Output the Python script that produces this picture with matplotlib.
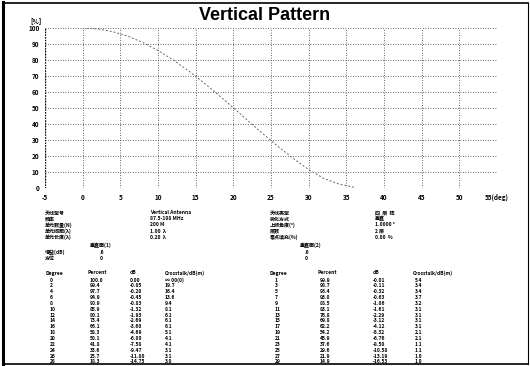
import matplotlib
matplotlib.use("Agg")
import matplotlib.pyplot as plt
from matplotlib.lines import Line2D

plt.rcParams['font.family'] = ['Noto Sans CJK SC', 'DejaVu Sans']

# pattern curve (degree, percent)
curve_deg = [0, 2, 4, 6, 8, 10, 12, 14, 16, 18, 20, 22, 24, 26, 28, 30, 32, 34, 36]
curve_pct = [100.0, 99.4, 97.7, 94.9, 90.9, 85.9, 80.1, 73.4, 66.1, 58.3, 50.1, 41.8,
             33.6, 25.7, 18.3, 11.5, 6.0, 2.5, 0.5]

x_ticks = [-5, 0, 5, 10, 15, 20, 25, 30, 35, 40, 45, 50, 55]
x_labels = ['-5', '0', '5', '10', '15', '20', '25', '30', '35', '40', '45', '50', '55(deg)']
y_ticks = [0, 10, 20, 30, 40, 50, 60, 70, 80, 90, 100]

# parameter block
info_left_labels = ['天线型号', '频率', '单元数量(N)', '单元间距(λ)', '单元长度(λ)']
info_left_values = ['Vertical Antenna', '87.5-108 MHz', '200 M', '1.00  λ', '0.20  λ']
info_right_labels = ['天线类型', '极化方式', '上倾角度(°)', '层数', '零点填充(%)']
info_right_values = ['四  层  阵', '垂直', '1.0000 °', '2 层', '0.00  %']

# table data
left_deg = [0, 2, 4, 6, 8, 10, 12, 14, 16, 18, 20, 22, 24, 26, 28]
left_pct = [100.0, 99.4, 97.7, 94.9, 90.9, 85.9, 80.1, 73.4, 66.1, 58.3, 50.1, 41.8, 33.6, 25.7, 18.3]
left_db = [0.00, -0.05, -0.20, -0.45, -0.83, -1.32, -1.93, -2.69, -3.60, -4.69, -6.00, -7.58,
           -9.47, -11.80, -14.75]
left_xt = ['∞ 00(0)', '19.7', '16.4', '13.6', '9.4', '8.1', '6.1', '6.1', '6.1', '5.1', '4.1',
           '4.1', '3.1', '3.1', '3.0']
right_deg = [1, 3, 5, 7, 9, 11, 13, 15, 17, 19, 21, 23, 25, 27, 29]
right_pct = [99.9, 98.7, 96.4, 93.0, 88.5, 83.1, 76.8, 69.8, 62.2, 54.2, 45.9, 37.6, 29.6, 21.9, 14.9]
right_db = [-0.01, -0.11, -0.32, -0.63, -1.06, -1.61, -2.29, -3.12, -4.12, -5.32, -6.76, -8.50,
            -10.58, -13.19, -16.53]
right_xt = ['5.4', '3.4', '3.4', '3.7', '3.2', '3.1', '3.1', '3.1', '3.1', '2.1', '2.1', '1.1',
            '1.1', '1.0', '1.0']

W, H = 530, 366
fig = plt.figure(figsize=(W / 100, H / 100), dpi=100)
fig.patch.set_facecolor('white')


def px(x, y):
    return x / W, 1 - y / H


def txt(x, y, s, size=3.6, **kw):
    fx, fy = px(x, y)
    fig.text(fx, fy, s, fontsize=size, va='center', color='black', fontweight='bold', **kw)


# outer frame
for (x0, y0, x1, y1, lw) in [(3, 2, 3, 364, 2.2), (3, 3, 528, 3, 1.2),
                             (3, 364, 528, 364, 1.2), (528, 3, 528, 364, 0.8)]:
    a, b = px(x0, y0)
    c, d = px(x1, y1)
    fig.add_artist(Line2D([a, c], [b, d], color='black', lw=lw, transform=fig.transFigure))

fx, fy = px(265, 16)
fig.text(fx, fy, 'Vertical Pattern', fontsize=13, fontweight='bold', ha='center', va='center',
         family='Liberation Sans')

l, b = px(45, 188)
r, t = px(497, 28)
ax = fig.add_axes([l, b, r - l, t - b])
ax.set_xlim(-5, 55)
ax.set_ylim(0, 100)
ax.plot(curve_deg, curve_pct, color='#666666', lw=0.7, linestyle=(0, (2, 2)))
ax.set_xticks(x_ticks)
ax.set_xticklabels(x_labels, fontweight='bold')
ax.set_yticks(y_ticks)
ax.set_yticklabels([str(v) for v in y_ticks], fontweight='bold')
ax.tick_params(length=0, labelsize=4.6, pad=4)
ax.grid(True, color='#333333', lw=0.6, linestyle=(0, (1, 2)))
for s in ax.spines.values():
    s.set_visible(False)
ax.axvline(-5, color='black', lw=1.0, linestyle=(0, (1, 1)))
ax.axhline(0, color='#333333', lw=0.6, linestyle=(0, (1, 2)))
txt(30, 21, '[%]', size=4.6)

# info blocks
for i in range(5):
    y = 213 + i * 6
    txt(45, y, info_left_labels[i])
    txt(150, y, info_left_values[i])
    txt(270, y, info_right_labels[i])
    txt(375, y, info_right_values[i])

txt(90, 245, '垂直面(1)')
txt(45, 252, '增益(dB)')
txt(100, 252, '.6')
txt(45, 258, '方位')
txt(100, 258, '0')
txt(300, 245, '垂直面(2)')
txt(305, 252, '.6')
txt(305, 258, '0')

# tables
txt(45, 273, 'Degree')
txt(88, 273, 'Percent')
txt(130, 273, 'dB')
txt(165, 273, 'Crosstalk/dB(m)')
txt(270, 273, 'Degree')
txt(318, 273, 'Percent')
txt(373, 273, 'dB')
txt(413, 273, 'Crosstalk/dB(m)')
for i in range(len(left_deg)):
    y = 280 + i * 5.85
    txt(50, y, str(left_deg[i]))
    txt(90, y, f'{left_pct[i]:.1f}')
    txt(130, y, f'{left_db[i]:.2f}')
    txt(165, y, left_xt[i])
    txt(275, y, str(right_deg[i]))
    txt(320, y, f'{right_pct[i]:.1f}')
    txt(373, y, f'{right_db[i]:.2f}')
    txt(415, y, right_xt[i])

fig.savefig('out.png', dpi=100)
